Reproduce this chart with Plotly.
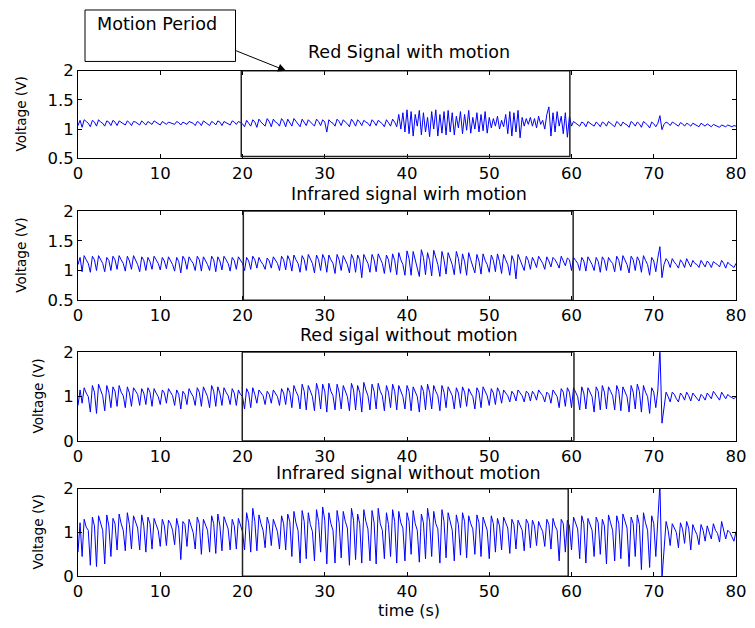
import plotly.graph_objects as go

sample_step = 0.25
n_samples = 321
time_s = [i * sample_step for i in range(n_samples)]

red_with_motion = [
    1.06, 1.15, 1.03, 1.16, 1.13, 1.10, 1.04, 1.15, 1.12, 1.05, 1.16, 1.12, 1.10, 1.05, 1.14, 1.12, 1.06, 1.15, 1.12, 1.06,
    1.14, 1.12, 1.10, 1.07, 1.14, 1.11, 1.06, 1.13, 1.12, 1.10, 1.07, 1.14, 1.11, 1.07, 1.13, 1.11, 1.08, 1.14, 1.12, 1.10,
    1.07, 1.13, 1.11, 1.08, 1.12, 1.11, 1.10, 1.08, 1.13, 1.11, 1.07, 1.12, 1.10, 1.08, 1.13, 1.11, 1.10, 1.06, 1.13, 1.11,
    1.06, 1.14, 1.11, 1.09, 1.06, 1.13, 1.11, 1.07, 1.14, 1.12, 1.06, 1.13, 1.11, 1.09, 1.07, 1.14, 1.12, 1.08, 1.13, 1.11,
    1.09, 1.04, 1.15, 1.10, 1.05, 1.16, 1.12, 1.03, 1.17, 1.12, 1.09, 1.05, 1.18, 1.13, 1.04, 1.17, 1.12, 1.10, 1.05, 1.18,
    1.13, 1.04, 1.17, 1.12, 1.05, 1.18, 1.13, 1.10, 1.04, 1.17, 1.12, 1.06, 1.16, 1.12, 1.09, 1.05, 1.17, 1.13, 1.06, 1.16,
    1.12, 0.95, 1.16, 1.12, 1.10, 1.05, 1.17, 1.13, 1.06, 1.16, 1.12, 1.09, 1.04, 1.17, 1.12, 1.05, 1.16, 1.12, 1.06, 1.15,
    1.12, 1.10, 1.05, 1.16, 1.12, 1.06, 1.15, 1.12, 1.09, 1.04, 1.16, 1.11, 1.05, 1.17, 1.12, 1.04, 1.25, 1.00, 1.28, 0.95,
    1.33, 0.92, 1.30, 0.88, 1.25, 1.05, 1.32, 0.90, 1.28, 0.95, 1.20, 0.87, 1.30, 1.00, 1.33, 0.88, 1.25, 0.93, 1.30, 0.90,
    1.32, 0.95, 1.28, 0.90, 1.22, 1.02, 1.30, 0.92, 1.25, 0.98, 1.32, 0.93, 1.20, 1.00, 1.28, 0.95, 1.25, 0.97, 1.30, 0.93,
    1.20, 1.02, 1.18, 1.05, 1.22, 1.00, 1.15, 1.04, 1.25, 0.92, 1.30, 0.88, 1.28, 0.95, 1.32, 0.85, 1.20, 1.05, 1.18, 1.08,
    1.20, 1.05, 1.18, 1.02, 1.22, 1.08, 1.15, 1.00, 1.25, 1.38, 0.88, 1.28, 0.95, 1.30, 1.05, 1.22, 0.92, 1.28, 0.86, 1.22,
    1.05, 1.13, 1.10, 1.08, 1.05, 1.12, 1.10, 1.04, 1.13, 1.10, 1.08, 1.05, 1.12, 1.09, 1.04, 1.12, 1.10, 1.05, 1.13, 1.10,
    1.08, 1.04, 1.13, 1.10, 1.05, 1.12, 1.09, 1.07, 1.03, 1.13, 1.10, 1.05, 1.12, 1.09, 1.03, 1.13, 1.10, 1.07, 1.02, 1.12,
    1.09, 1.04, 1.10, 1.23, 0.99, 1.08, 1.12, 1.10, 1.06, 1.12, 1.10, 1.08, 1.05, 1.11, 1.09, 1.05, 1.10, 1.08, 1.05, 1.10,
    1.08, 1.07, 1.04, 1.10, 1.08, 1.05, 1.09, 1.07, 1.04, 1.08, 1.06, 1.05, 1.03, 1.07, 1.06, 1.04, 1.07, 1.05, 1.04, 1.06,
    1.05,
]

infrared_with_motion = [
    1.10, 1.22, 0.98, 1.25, 1.18, 1.12, 0.97, 1.24, 1.18, 1.00, 1.25, 1.18, 1.12, 0.98, 1.22, 1.17, 1.00, 1.24, 1.18, 1.02,
    1.25, 1.18, 1.12, 0.99, 1.24, 1.16, 1.02, 1.25, 1.18, 1.10, 0.98, 1.23, 1.17, 1.00, 1.22, 1.15, 1.02, 1.24, 1.18, 1.12,
    1.01, 1.22, 1.16, 1.03, 1.23, 1.17, 1.10, 0.99, 1.22, 1.15, 0.96, 1.24, 1.18, 1.02, 1.23, 1.17, 1.12, 1.00, 1.24, 1.18,
    0.99, 1.23, 1.17, 1.10, 1.00, 1.24, 1.18, 0.98, 1.23, 1.16, 1.01, 1.24, 1.18, 1.12, 0.99, 1.22, 1.17, 1.02, 1.23, 1.17,
    1.12, 1.00, 1.22, 1.16, 1.02, 1.24, 1.18, 1.04, 1.22, 1.15, 1.10, 1.02, 1.21, 1.16, 1.04, 1.23, 1.17, 1.12, 1.00, 1.24,
    1.18, 1.01, 1.25, 1.17, 0.99, 1.26, 1.18, 1.12, 0.97, 1.25, 1.18, 1.00, 1.27, 1.19, 1.12, 0.96, 1.26, 1.18, 1.00, 1.27,
    1.19, 0.97, 1.26, 1.18, 1.12, 0.95, 1.27, 1.18, 1.00, 1.25, 1.17, 1.10, 0.96, 1.27, 1.19, 0.97, 1.26, 1.18, 0.88, 1.27,
    1.19, 1.12, 0.97, 1.27, 1.18, 0.98, 1.28, 1.19, 1.12, 0.95, 1.26, 1.18, 0.97, 1.28, 1.17, 0.93, 1.30, 1.18, 1.10, 0.92,
    1.33, 1.20, 0.92, 1.32, 1.18, 1.08, 0.90, 1.35, 1.22, 0.93, 1.30, 1.17, 0.91, 1.34, 1.20, 1.10, 0.90, 1.32, 1.18, 0.94,
    1.30, 1.18, 1.10, 0.93, 1.32, 1.20, 0.95, 1.28, 1.15, 0.92, 1.30, 1.18, 1.08, 0.96, 1.27, 1.16, 0.94, 1.28, 1.17, 1.10,
    0.97, 1.26, 1.17, 0.98, 1.28, 1.15, 0.95, 1.27, 1.18, 1.10, 0.92, 1.25, 1.16, 0.86, 1.27, 1.18, 1.12, 1.00, 1.24, 1.17,
    1.02, 1.22, 1.15, 1.05, 1.24, 1.18, 1.12, 1.02, 1.23, 1.16, 1.06, 1.22, 1.18, 1.12, 1.04, 1.24, 1.17, 1.08, 1.21, 1.18,
    1.00, 1.22, 1.17, 1.12, 1.00, 1.22, 1.16, 0.99, 1.23, 1.17, 1.10, 1.00, 1.22, 1.15, 0.97, 1.23, 1.17, 1.00, 1.22, 1.16,
    1.12, 0.98, 1.24, 1.17, 1.00, 1.25, 1.17, 1.10, 0.96, 1.24, 1.18, 1.00, 1.23, 1.16, 0.97, 1.25, 1.17, 1.10, 0.92, 1.22,
    1.16, 0.98, 1.22, 1.40, 0.88, 1.10, 1.20, 1.15, 1.05, 1.20, 1.14, 1.10, 1.04, 1.18, 1.13, 1.05, 1.20, 1.14, 1.06, 1.17,
    1.12, 1.10, 1.05, 1.17, 1.12, 1.06, 1.16, 1.12, 1.05, 1.15, 1.12, 1.10, 1.06, 1.17, 1.12, 1.04, 1.14, 1.10, 1.08, 1.05,
    1.12,
]

red_without_motion = [
    0.80, 1.15, 0.85, 1.20, 1.08, 1.00, 0.65, 1.25, 1.10, 0.62, 1.28, 1.12, 1.02, 0.68, 1.25, 1.10, 0.75, 1.22, 1.12, 0.78,
    1.25, 1.10, 1.02, 0.75, 1.22, 1.08, 0.78, 1.20, 1.12, 1.05, 0.80, 1.18, 1.08, 0.82, 1.20, 1.10, 0.78, 1.18, 1.08, 1.00,
    0.82, 1.15, 1.08, 0.85, 1.18, 1.10, 1.02, 0.80, 1.15, 1.05, 0.72, 1.12, 1.05, 0.82, 1.18, 1.08, 1.00, 0.80, 1.20, 1.10,
    0.78, 1.22, 1.10, 1.00, 0.75, 1.25, 1.12, 0.78, 1.22, 1.08, 0.80, 1.20, 1.10, 1.02, 0.82, 1.18, 1.08, 0.80, 1.15, 1.05,
    1.00, 0.72, 1.18, 1.08, 0.75, 1.20, 1.05, 0.85, 1.15, 1.08, 1.02, 0.82, 1.12, 1.05, 0.85, 1.15, 1.08, 1.00, 0.80, 1.18,
    1.08, 0.82, 1.20, 1.10, 0.75, 1.25, 1.12, 1.02, 0.72, 1.28, 1.12, 0.70, 1.25, 1.10, 1.00, 0.68, 1.30, 1.12, 0.72, 1.28,
    1.12, 0.65, 1.30, 1.12, 1.02, 0.70, 1.28, 1.10, 0.72, 1.25, 1.12, 1.00, 0.68, 1.30, 1.15, 0.70, 1.25, 1.10, 0.65, 1.32,
    1.15, 1.02, 0.70, 1.28, 1.12, 0.72, 1.30, 1.12, 1.02, 0.68, 1.25, 1.10, 0.75, 1.28, 1.12, 0.70, 1.25, 1.10, 1.00, 0.72,
    1.25, 1.12, 0.68, 1.22, 1.10, 1.00, 0.65, 1.25, 1.12, 0.70, 1.28, 1.10, 0.72, 1.25, 1.12, 1.02, 0.68, 1.25, 1.10, 0.75,
    1.22, 1.10, 1.02, 0.72, 1.20, 1.08, 0.75, 1.22, 1.10, 0.78, 1.18, 1.08, 1.00, 0.72, 1.20, 1.10, 0.75, 1.22, 1.10, 1.02,
    0.80, 1.18, 1.08, 0.82, 1.20, 1.10, 0.85, 1.15, 1.08, 1.02, 0.88, 1.12, 1.05, 0.90, 1.15, 1.08, 1.02, 0.88, 1.12, 1.08,
    0.90, 1.12, 1.05, 0.92, 1.15, 1.08, 1.02, 0.88, 1.10, 1.05, 0.85, 1.15, 1.08, 1.00, 0.75, 1.18, 1.10, 0.78, 1.20, 1.10,
    0.75, 1.20, 1.10, 1.00, 0.70, 1.22, 1.08, 0.72, 1.20, 1.10, 1.00, 0.65, 1.22, 1.12, 0.70, 1.25, 1.10, 0.72, 1.22, 1.12,
    1.02, 0.70, 1.25, 1.12, 0.68, 1.22, 1.10, 1.00, 0.65, 1.25, 1.10, 0.72, 1.28, 1.12, 0.65, 1.25, 1.10, 1.00, 0.62, 1.20,
    1.10, 0.75, 1.15, 2.10, 0.40, 0.80, 1.10, 1.00, 0.88, 1.10, 1.05, 0.95, 0.88, 1.08, 1.02, 0.92, 1.10, 1.02, 0.90, 1.08,
    1.02, 0.98, 0.90, 1.05, 1.00, 0.92, 1.08, 1.02, 0.95, 1.12, 1.05, 1.00, 0.92, 1.10, 1.02, 0.95, 1.05, 1.00, 0.98, 0.95,
    1.00,
]

infrared_without_motion = [
    0.55, 1.22, 0.45, 1.30, 1.12, 1.05, 0.25, 1.35, 1.15, 0.22, 1.38, 1.18, 1.05, 0.28, 1.40, 1.15, 0.45, 1.32, 1.20, 0.60,
    1.42, 1.20, 1.05, 0.58, 1.45, 1.18, 0.62, 1.38, 1.22, 1.10, 0.60, 1.40, 1.15, 0.55, 1.35, 1.20, 0.62, 1.32, 1.18, 1.05,
    0.68, 1.30, 1.15, 0.70, 1.28, 1.20, 1.05, 0.72, 1.32, 1.10, 0.38, 1.25, 1.18, 0.68, 1.30, 1.12, 1.00, 0.62, 1.35, 1.20,
    0.50, 1.30, 1.18, 1.05, 0.55, 1.38, 1.20, 0.52, 1.42, 1.15, 0.58, 1.36, 1.22, 1.08, 0.60, 1.30, 1.15, 0.62, 1.32, 1.18,
    1.02, 0.60, 1.45, 1.22, 0.55, 1.55, 1.25, 0.58, 1.40, 1.20, 1.05, 0.65, 1.35, 1.18, 0.70, 1.30, 1.15, 1.02, 0.62, 1.38,
    1.20, 0.60, 1.42, 1.25, 0.45, 1.48, 1.22, 1.05, 0.30, 1.50, 1.25, 0.40, 1.45, 1.18, 1.02, 0.35, 1.52, 1.25, 0.55, 1.58,
    1.28, 0.28, 1.45, 1.20, 1.05, 0.30, 1.50, 1.22, 0.42, 1.48, 1.25, 1.10, 0.25, 1.55, 1.28, 0.38, 1.42, 1.20, 0.30, 1.52,
    1.25, 1.08, 0.35, 1.50, 1.22, 0.28, 1.55, 1.20, 1.05, 0.40, 1.45, 1.18, 0.45, 1.52, 1.25, 0.30, 1.48, 1.22, 1.10, 0.35,
    1.45, 1.25, 0.50, 1.50, 1.20, 1.05, 0.32, 1.42, 1.22, 0.40, 1.55, 1.25, 0.45, 1.48, 1.20, 1.08, 0.30, 1.52, 1.25, 0.42,
    1.45, 1.22, 1.05, 0.35, 1.40, 1.18, 0.48, 1.45, 1.25, 0.42, 1.38, 1.20, 1.08, 0.50, 1.40, 1.22, 0.45, 1.35, 1.18, 1.05,
    0.40, 1.38, 1.20, 0.55, 1.32, 1.15, 0.60, 1.35, 1.22, 1.10, 0.52, 1.30, 1.18, 0.62, 1.28, 1.15, 1.05, 0.58, 1.30, 1.20,
    0.65, 1.28, 1.15, 0.70, 1.25, 1.12, 1.02, 0.68, 1.30, 1.18, 0.62, 1.32, 1.15, 1.05, 0.35, 1.30, 1.20, 0.55, 1.28, 1.15,
    0.60, 1.35, 1.22, 1.08, 0.40, 1.38, 1.20, 0.30, 1.32, 1.18, 1.05, 0.45, 1.35, 1.22, 0.50, 1.30, 1.15, 0.28, 1.40, 1.22,
    1.05, 0.35, 1.38, 1.20, 0.40, 1.42, 1.25, 1.10, 0.22, 1.35, 1.20, 0.45, 1.40, 1.18, 0.15, 1.45, 1.22, 1.05, 0.20, 1.38,
    1.20, 0.45, 1.30, 2.10, -0.05, 0.60, 1.25, 1.05, 0.70, 1.20, 1.10, 1.00, 0.65, 1.22, 1.08, 0.75, 1.25, 1.10, 0.60, 1.18,
    1.05, 0.95, 0.72, 1.18, 1.05, 0.80, 1.15, 1.02, 0.85, 1.20, 1.05, 0.98, 0.78, 1.25, 1.08, 0.85, 1.05, 1.00, 0.90, 0.80,
    1.02,
]

panel_titles = [
    "Red Signal with motion",
    "Infrared signal wirh motion",
    "Red sigal without motion",
    "Infrared signal without motion",
]
panel_series = [red_with_motion, infrared_with_motion, red_without_motion, infrared_without_motion]
x_ticks = [0, 10, 20, 30, 40, 50, 60, 70, 80]
y_ticks_top = [0.5, 1, 1.5, 2]
y_ticks_top_text = ["0.5", "1", "1.5", "2"]
y_ticks_bottom = [0, 1, 2]
y_ticks_bottom_text = ["0", "1", "2"]
# motion period box edges (s) as drawn in each panel
motion_boxes = [(19.85, 59.8, 0.53), (20.1, 60.2, 0.5), (19.97, 60.3, 0.0), (20.0, 59.6, 0.0)]

# ---------------- layout ----------------
W, H = 755, 628
FONT = "DejaVu Sans"
# the returned photo shows the page inset by 8 px and shrunk to fit,
# so reference pixel positions are mapped back to page positions here
INSET = 8
SX = (W - 2 * INSET) / W
SY = (H - 2 * INSET) / H

left_ref, right_ref = 81, 739
panel_ref = [(70, 158), (211, 300.7), (353, 442), (490, 578)]
title_ref = [51, 194, 336, 474]
ylabel_x_ref = [24, 24, 41, 41]


def dx(p):
    return (p - INSET) / SX


def dy(p):
    return (p - INSET) / SY


def px(p):
    return dx(p) / W


def py(p):
    return 1 - dy(p) / H


fig = go.Figure()
layout = dict(
    width=W, height=H, margin=dict(l=0, r=0, t=0, b=0),
    paper_bgcolor="white", plot_bgcolor="white", showlegend=False,
    font=dict(family=FONT, size=16, color="black"),
)
annotations = []
shapes = []
tick_font = dict(family=FONT, size=16.5, color="black")

for k in range(4):
    sfx = "" if k == 0 else str(k + 1)
    fig.add_trace(go.Scatter(
        x=time_s, y=panel_series[k], mode="lines",
        line=dict(color="#0000ff", width=1),
        xaxis="x" + sfx, yaxis="y" + sfx, hoverinfo="skip",
    ))
    top, bot = panel_ref[k]
    layout["xaxis" + sfx] = dict(
        domain=[px(left_ref), px(right_ref)], anchor="y" + sfx,
        range=[0, 80], tickvals=x_ticks, ticks="inside", ticklen=4,
        tickcolor="black", showline=True, linecolor="black", linewidth=1,
        mirror="ticks", showgrid=False, zeroline=False,
        tickfont=tick_font, ticklabeloverflow="allow",
    )
    if k < 2:
        yr, tv, tt = [0.5, 2], y_ticks_top, y_ticks_top_text
    else:
        yr, tv, tt = [0, 2], y_ticks_bottom, y_ticks_bottom_text
    layout["yaxis" + sfx] = dict(
        domain=[py(bot), py(top)], anchor="x" + sfx,
        range=yr, tickvals=tv, ticktext=tt, ticks="inside", ticklen=4,
        tickcolor="black", showline=True, linecolor="black", linewidth=1,
        mirror="ticks", showgrid=False, zeroline=False,
        tickfont=tick_font, ticklabeloverflow="allow",
    )
    annotations.append(dict(
        text=panel_titles[k], x=px((81 + 742) / 2), y=py(title_ref[k]),
        xref="paper", yref="paper", xanchor="center", yanchor="middle",
        showarrow=False, font=dict(family=FONT, size=17.5, color="black"),
    ))
    annotations.append(dict(
        text="Voltage (V)", x=px(ylabel_x_ref[k]), y=py((top + bot) / 2),
        xref="paper", yref="paper", xanchor="center", yanchor="middle",
        textangle=-90, showarrow=False, font=dict(family=FONT, size=13.6, color="black"),
    ))
    x0, x1, y0 = motion_boxes[k]
    shapes.append(dict(
        type="rect", xref="x" + sfx, yref="y" + sfx,
        x0=x0, x1=x1, y0=y0, y1=yr[1],
        line=dict(color="#222222", width=1.5), fillcolor="rgba(0,0,0,0)",
    ))

# x-axis title sits as low as the page allows
annotations.append(dict(
    text="time (s)", x=px((81 + 742) / 2), y=0, yshift=-4,
    xref="paper", yref="paper", xanchor="center", yanchor="bottom",
    showarrow=False, font=dict(family=FONT, size=16, color="black"),
))

# Motion Period callout
shapes.append(dict(
    type="rect", xref="paper", yref="paper",
    x0=px(88), x1=px(238.5), y0=py(60.7), y1=py(9),
    line=dict(color="black", width=1), fillcolor="white",
))
annotations.append(dict(
    text="Motion Period", x=px(98), y=py(23),
    xref="paper", yref="paper", xanchor="left", yanchor="middle",
    showarrow=False, font=dict(family=FONT, size=17.6, color="black"),
))
annotations.append(dict(
    text="", x=px(289), y=py(70), xref="paper", yref="paper",
    showarrow=True, ax=dx(238.7) - dx(289), ay=dy(50) - dy(70),
    axref="pixel", ayref="pixel",
    arrowhead=2, arrowsize=1.6, arrowwidth=1, arrowcolor="black",
))

layout["annotations"] = annotations
layout["shapes"] = shapes
fig.update_layout(**layout)
fig.write_html("out.html")
